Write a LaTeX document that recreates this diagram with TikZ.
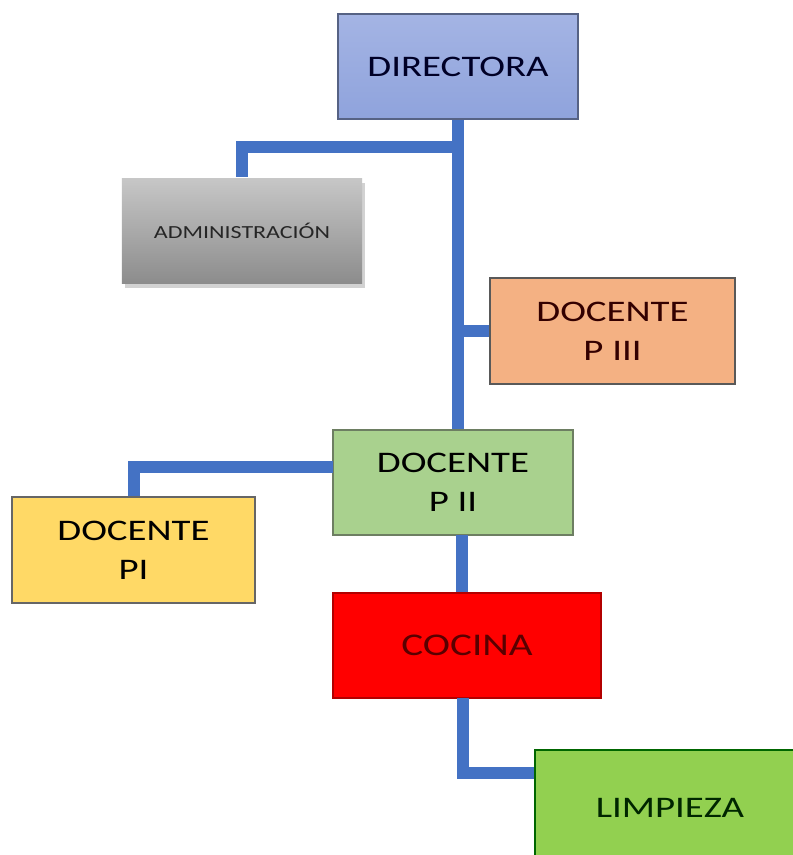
\documentclass[tikz,border=0pt]{standalone}
\usepackage{fontspec}
\newfontfamily\boxfont[FakeStretch=1.3]{Carlito}
\usetikzlibrary{shadows}
\definecolor{orgblue}{RGB}{68,114,196}
\definecolor{dirblue}{RGB}{164,180,228}
\definecolor{dirblue2}{RGB}{143,163,220}
\definecolor{peach}{RGB}{244,177,131}
\definecolor{sage}{RGB}{169,209,142}
\definecolor{sunny}{RGB}{255,217,102}
\definecolor{lime}{RGB}{146,208,80}

\begin{document}
\begin{tikzpicture}[x=0.2mm, y=-0.2mm,
    unit/.style={draw, line width=0.7pt, minimum width=48mm, minimum height=21mm,
                 align=center, font=\boxfont\fontsize{17}{22}\selectfont},
    link/.style={orgblue, line width=2.4mm, line join=miter}]
                % Page
                \clip (0,0) rectangle (793,855);
                \fill[white] (0,0) rectangle (793,855);

                % Boxes
                \node[unit, draw=dirblue2!60!black, top color=dirblue, bottom color=dirblue2,
                      text=black!85!blue] (dir) at (458,66.5) {DIRECTORA};
                \node[unit, draw=none, top color=black!22, bottom color=black!45,
                      drop shadow={opacity=0.35, shadow xshift=0.6mm, shadow yshift=-0.9mm},
                      font=\boxfont\fontsize{10.5}{13}\selectfont, text=black!85] (adm) at (242,230.5) {ADMINISTRACIÓN};
                \node[unit, fill=peach, draw=black!65, minimum width=49mm, minimum height=21.2mm,
                      text=black!80!red] (p3) at (612.5,331) {DOCENTE\\P III};
                \node[unit, fill=sage, draw=black!40!sage!70!gray] (p2) at (453,482.5) {DOCENTE\\P II};
                \node[unit, fill=sunny, draw=black!60, minimum width=48.6mm, minimum height=21.2mm] (p1) at (133.5,550) {DOCENTE\\PI};
                \node[unit, fill=red, draw=red!70!black, minimum width=53.6mm,
                      font=\boxfont\fontsize{18}{22}\selectfont, text=red!35!black] (coc) at (467,645.5) {COCINA};
                \node[unit, fill=lime, draw=black!60!green, minimum width=54mm, minimum height=23mm,
                      text=black!85!green] (lim) at (670,807.5) {LIMPIEZA};

                % Junctions
                \coordinate (jadm) at (458,147);
                \coordinate (jp3) at (458,331);
                \coordinate (jp1) at (333,467);
                \coordinate (jcoc) at (462,535);
                \coordinate (jlim) at (463,698);

                % Links
                \draw[link] (dir.south) -- (dir.south |- p2.north);
                \draw[link] (jadm) -| (adm.north);
                \draw[link] (jp3) -- (p3.west);
                \draw[link] (jp1) -| (p1.north);
                \draw[link] (jcoc) -- (jcoc |- coc.north);
                \draw[link] (jlim) |- ([yshift=6.9mm]lim.west);
            \end{tikzpicture}
\end{document}
